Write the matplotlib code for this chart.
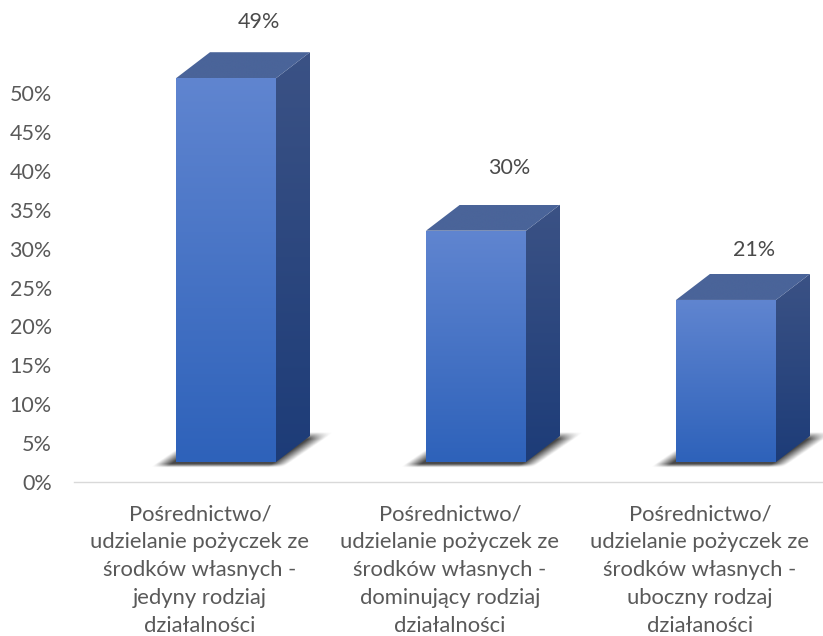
import numpy as np
import matplotlib
matplotlib.use("Agg")
import matplotlib.pyplot as plt
from matplotlib.patches import Polygon
from matplotlib.colors import LinearSegmentedColormap

plt.rcParams['font.family'] = ['Lato', 'DejaVu Sans']

categories = [
    "Pośrednictwo/\nudzielanie pożyczek ze\nśrodków własnych -\njedyny rodziaj\ndziałalności",
    "Pośrednictwo/\nudzielanie pożyczek ze\nśrodków własnych -\ndominujący rodziaj\ndziałalności",
    "Pośrednictwo/\nudzielanie pożyczek ze\nśrodków własnych -\nuboczny rodzaj\ndziałaności",
]
values = [49, 30, 21]
bar_tops = [51.9, 32.3, 23.4]   # front-top edge of each 3-D bar, read on the axis
tick_values = [0, 5, 10, 15, 20, 25, 30, 35, 40, 45, 50]

W, H = 823, 636
fig = plt.figure(figsize=(W / 100, H / 100), dpi=100)
AX_L, AX_R, AX_Y0, AX_Y_TOP = 74, 823, 482, 0
ax = fig.add_axes([AX_L / W, 1 - AX_Y0 / H, (AX_R - AX_L) / W, (AX_Y0 - AX_Y_TOP) / H])
PX_X = 250.0
PX_Y = 7.78
X0 = 200          # pixel of the first category tick

for s in ('top', 'right', 'left'):
    ax.spines[s].set_visible(False)
ax.spines['bottom'].set_color('#D9D9D9')
ax.spines['bottom'].set_linewidth(1.0)
ax.set_yticks(tick_values)
ax.set_yticklabels([f"{v}%" for v in tick_values], fontsize=15.5, color='#595959')
ax.tick_params(axis='y', length=0, pad=16)
ax.set_xticks(range(len(categories)))
ax.set_xticklabels(categories, fontsize=15.8, color='#595959', linespacing=1.49)
ax.tick_params(axis='x', length=0, pad=16)

shift = 26 / PX_X   # 3-D bars sit right of their category ticks
half = 50 / PX_X
dx = 34 / PX_X
dy = 26 / PX_Y
base = 20 / PX_Y


def shade(poly_xy, c_top, c_bot, y0, y1, z):
    poly = Polygon(poly_xy, closed=True, facecolor='none', edgecolor='none', zorder=z)
    ax.add_patch(poly)
    cmap = LinearSegmentedColormap.from_list('g', [c_bot, c_top])
    xs = [p[0] for p in poly_xy]
    im = ax.imshow(np.linspace(1, 0, 256).reshape(-1, 1), cmap=cmap, vmin=0, vmax=1,
                   extent=(min(xs), max(xs), y0, y1), aspect='auto', zorder=z,
                   interpolation='bilinear')
    im.set_clip_path(poly)


def shadow(xc):
    nx, ny = 320, 90
    x = np.linspace(xc - 90 / PX_X, xc + 125 / PX_X, nx)
    y = np.linspace(base - 10 / PX_Y, base + 42 / PX_Y, ny)
    X, Y = np.meshgrid(x, y)
    px = (X - xc) * PX_X
    py = (Y - base) * PX_Y
    lean = px - py * 1.45
    inner = np.clip((66.5 - np.abs(lean + 1.5)) / 16, 0, 1)
    vert = np.clip((py + 5.5) / 3.5, 0, 1) * np.clip((30 - py) / 7, 0, 1)
    rgba = np.zeros((ny, nx, 4))
    rgba[..., :3] = 0.2
    rgba[..., 3] = inner * vert * 0.9
    ax.imshow(rgba, extent=(x[0], x[-1], y[0], y[-1]), origin='lower', aspect='auto',
              zorder=1, interpolation='bilinear')


label_shift = [(23.8, 21.6), (23.8, 26.6), (20, 17.3)]

for i, (v, top) in enumerate(zip(values, bar_tops)):
    c = i + shift
    l, r = c - half, c + half
    shadow(c)
    shade([(r, base), (r + dx, base + dy), (r + dx, top + dy), (r, top)],
          '#3B5285', '#1D3C78', base, top + dy, 3)
    shade([(l, top), (r, top), (r + dx, top + dy), (l + dx, top + dy)],
          '#4A6499', '#4A6499', top, top + dy, 3)
    shade([(l, base), (r, base), (r, top), (l, top)],
          '#6085D0', '#2E62BA', base, top, 4)
    ax.annotate(f"{v}%", (c, top + dy), xytext=label_shift[i],
                textcoords='offset points', ha='center', va='center',
                fontsize=15.5, color='#4A4A4A', annotation_clip=False)

ax.set_xlim((AX_L - X0) / PX_X, (AX_R - X0) / PX_X)
ax.set_ylim(0, AX_Y0 / PX_Y)
ax.patch.set_alpha(0)
fig.savefig("out.png", dpi=100)
